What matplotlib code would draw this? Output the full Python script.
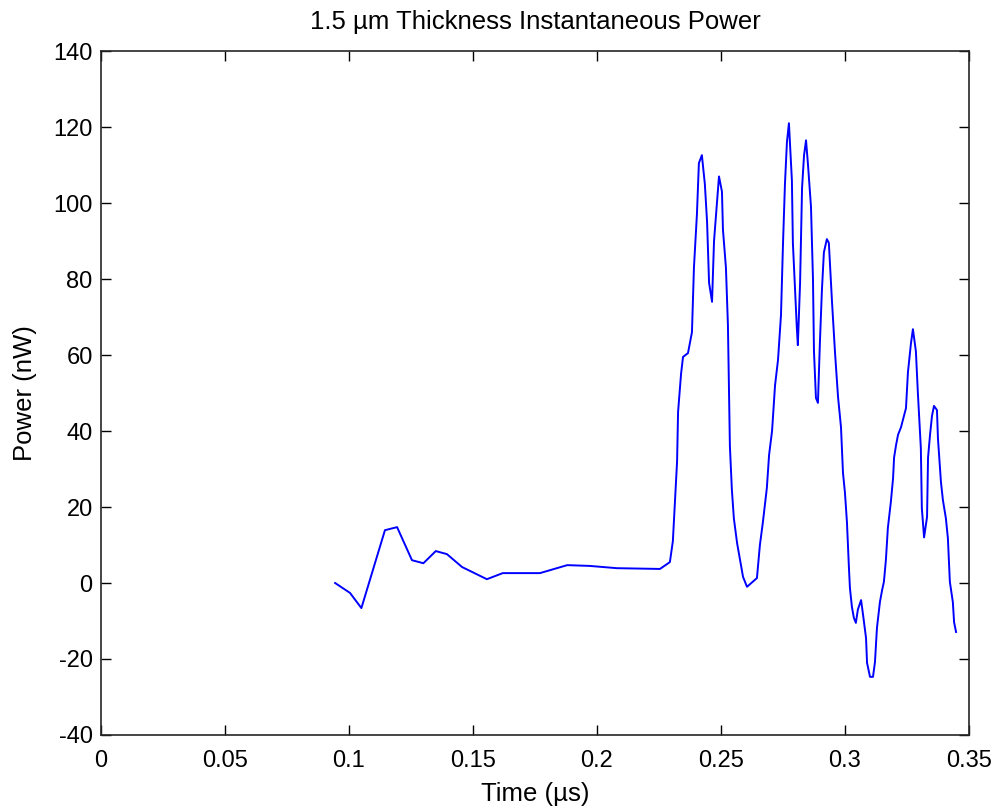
"""Instantaneous power trace, 1.5 um thickness (MATLAB-style figure)."""
import matplotlib
matplotlib.use("Agg")
import matplotlib.pyplot as plt

plt.rcParams["font.family"] = ["Liberation Sans", "DejaVu Sans"]
plt.rcParams["axes.unicode_minus"] = False

# time in microseconds, power in nW
time_us = [
    0.0944, 0.1004, 0.1050, 0.1145, 0.1194, 0.1254, 0.1300, 0.1350, 0.1395,
    0.1456, 0.1556, 0.1620, 0.1770, 0.1880, 0.1970, 0.2080, 0.2254, 0.2294,
    0.2306, 0.2315, 0.2323, 0.2327, 0.2339, 0.2347, 0.2367, 0.2383, 0.2391,
    0.2403, 0.2411, 0.2423, 0.2435, 0.2444, 0.2452, 0.2464, 0.2472, 0.2484,
    0.2492, 0.2504, 0.2508, 0.2520, 0.2528, 0.2536, 0.2544, 0.2552, 0.2565,
    0.2577, 0.2589, 0.2605, 0.2645, 0.2657, 0.2669, 0.2677, 0.2685, 0.2694,
    0.2706, 0.2718, 0.2730, 0.2742, 0.2750, 0.2758, 0.2766, 0.2774, 0.2786,
    0.2790, 0.2798, 0.2806, 0.2810, 0.2819, 0.2827, 0.2835, 0.2843, 0.2851,
    0.2863, 0.2871, 0.2875, 0.2883, 0.2891, 0.2899, 0.2907, 0.2915, 0.2927,
    0.2935, 0.2948, 0.2960, 0.2972, 0.2984, 0.2992, 0.3000, 0.3008, 0.3016,
    0.3020, 0.3028, 0.3036, 0.3044, 0.3052, 0.3065, 0.3073, 0.3085, 0.3089,
    0.3101, 0.3113, 0.3121, 0.3129, 0.3141, 0.3150, 0.3157, 0.3165, 0.3173,
    0.3185, 0.3194, 0.3198, 0.3206, 0.3214, 0.3226, 0.3234, 0.3246, 0.3254,
    0.3266, 0.3274, 0.3286, 0.3294, 0.3306, 0.3310, 0.3319, 0.3331, 0.3335,
    0.3343, 0.3351, 0.3359, 0.3371, 0.3375, 0.3387, 0.3395, 0.3407, 0.3415,
    0.3423, 0.3435, 0.3440, 0.3448,
]
power_nw = [
    0.0, -2.6, -6.6, 13.9, 14.7, 6.0, 5.2, 8.4, 7.6,
    4.2, 1.0, 2.6, 2.6, 4.7, 4.5, 3.9, 3.7, 5.5,
    11.0, 22.0, 32.0, 45.0, 55.0, 59.5, 60.5, 66.0, 83.0,
    97.0, 110.5, 112.6, 105.0, 95.0, 79.0, 74.0, 90.0, 100.0,
    107.0, 103.0, 93.0, 83.0, 68.0, 36.0, 24.5, 17.0, 10.5,
    6.0, 1.6, -1.0, 1.3, 10.0, 16.0, 20.5, 25.0, 33.7,
    40.0, 52.0, 58.7, 70.5, 89.0, 105.0, 116.0, 121.0, 106.0,
    89.5, 78.4, 67.0, 62.6, 79.0, 104.0, 112.6, 116.5, 110.0,
    99.0, 80.0, 61.0, 48.7, 47.4, 63.4, 77.0, 87.0, 90.5,
    89.5, 73.7, 60.5, 49.0, 41.0, 29.0, 23.7, 16.0, 4.0,
    -1.3, -6.3, -9.2, -10.5, -7.0, -4.5, -8.4, -14.5, -21.0,
    -24.7, -24.7, -20.8, -11.8, -5.0, -1.8, 0.3, 6.0, 14.5,
    21.3, 27.6, 33.0, 36.3, 39.0, 41.0, 43.0, 46.0, 55.5,
    63.0, 66.8, 61.0, 50.0, 35.5, 19.7, 12.0, 17.4, 33.0,
    39.0, 44.0, 46.6, 45.5, 38.0, 26.6, 21.8, 17.0, 11.8,
    0.3, -5.0, -10.3, -12.9,
]

x_ticks = [0, 0.05, 0.1, 0.15, 0.2, 0.25, 0.3, 0.35]
x_tick_labels = ["0", "0.05", "0.1", "0.15", "0.2", "0.25", "0.3", "0.35"]
y_ticks = list(range(-40, 141, 20))

fig = plt.figure(figsize=(9.98, 8.10), dpi=100)
ax = fig.add_axes([0.1012, 0.0926, 0.8697, 0.8444])
ax.plot(time_us, power_nw, color="#0000ff", lw=1.4)

ax.set_xlim(0, 0.35)
ax.set_ylim(-40, 140)
ax.set_xticks(x_ticks, x_tick_labels)
ax.set_yticks(y_ticks)
ax.tick_params(direction="in", length=7, width=1, labelsize=17,
               top=True, right=True)
ax.tick_params(axis="x", pad=11)
ax.tick_params(axis="y", pad=6)
for sp in ax.spines.values():
    sp.set_linewidth(1.2)
    sp.set_color("#262626")

ax.set_title("1.5 \u00b5m Thickness Instantaneous Power", fontsize=18.5, pad=16)
ax.set_xlabel("Time (\u00b5s)", fontsize=18.5, labelpad=7)
ax.set_ylabel("Power (nW)", fontsize=18.5, labelpad=12)

fig.savefig("out.png", dpi=100)
